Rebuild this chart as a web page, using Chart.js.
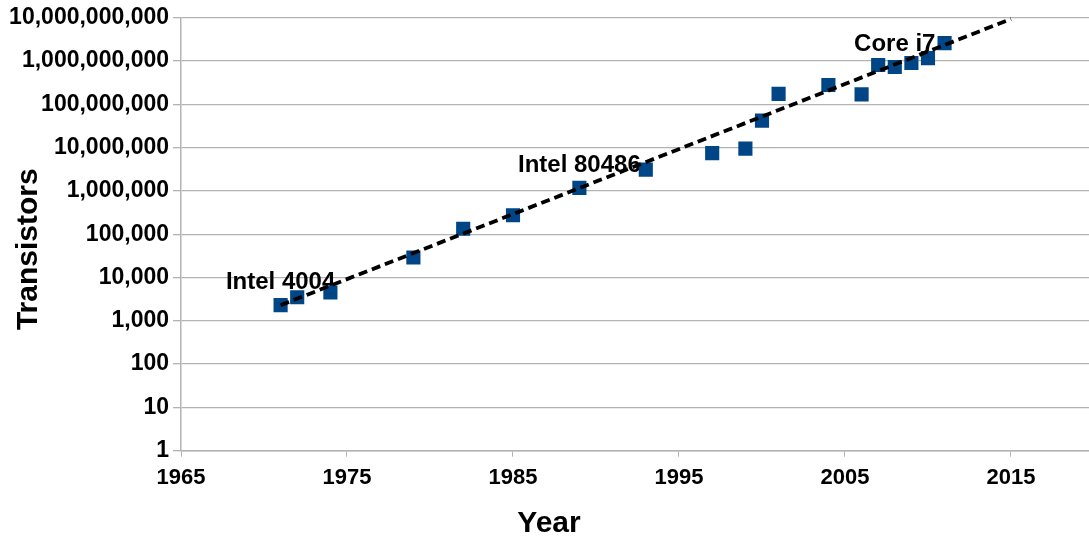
<!DOCTYPE html>
<html><head><meta charset="utf-8">
<script src="https://cdn.jsdelivr.net/npm/chart.js@4/dist/chart.umd.min.js"></script>
<style>html,body{margin:0;padding:0;background:#fff;overflow:hidden}</style>
</head><body>
<canvas id="c" width="1089" height="539"></canvas>
<script>
// ---- data ----
const years = [1971,1972,1974,1979,1982,1985,1989,1993,1997,1999,2000,2001,2004,2006,2007,2008,2009,2010,2011];
const transistors = [2300,3500,4500,29000,134000,275000,1180000,3100000,7500000,9500000,42000000,175000000,280000000,170000000,810000000,731000000,904000000,1170000000,2600000000];
const pointLabels = ['Intel 4004','','','','','','Intel 80486','','','','','','','','','Core i7','','',''];
const trendYears = [1971, 2015];
const trendValues = [2300, 9400000000];
const xTicks = [1965,1975,1985,1995,2005,2015];
const yTicks = [1,10,100,1000,10000,100000,1000000,10000000,100000000,1000000000,10000000000];
const xTitle = 'Year';
const yTitle = 'Transistors';

const FONT = '"Liberation Sans", Arial, sans-serif';
const GRID = '#b3b3b3';

const labelPlugin = {
  id: 'ptLabels',
  beforeDatasetsDraw(chart) {
    const meta = chart.getDatasetMeta(1);
    const ctx = chart.ctx;
    ctx.save();
    ctx.font = 'bold 24px ' + FONT;
    ctx.fillStyle = '#000';
    ctx.textAlign = 'center';
    ctx.textBaseline = 'alphabetic';
    meta.data.forEach((pt, i) => {
      const t = pointLabels[i];
      if (t) ctx.fillText(t, pt.x, pt.y - 16);
    });
    ctx.restore();
  }
};

const titlePlugin = {
  id: 'axisTitles',
  afterDraw(chart) {
    const ctx = chart.ctx, ca = chart.chartArea;
    ctx.save();
    ctx.fillStyle = '#000';
    ctx.textAlign = 'center';
    ctx.textBaseline = 'alphabetic';
    ctx.font = 'bold 30px ' + FONT;
    ctx.fillText(xTitle, 549, 531.5);
    ctx.font = 'bold 30px ' + FONT;
    ctx.translate(37, (ca.top + ca.bottom) / 2 + 15);
    ctx.rotate(-Math.PI / 2);
    ctx.fillText(yTitle, 0, 0);
    ctx.restore();
  }
};

new Chart(document.getElementById('c'), {
  type: 'scatter',
  data: {
    datasets: [
      {
        type: 'line',
        label: 'trend',
        data: trendYears.map((x, i) => ({x, y: trendValues[i]})),
        borderColor: '#000',
        borderWidth: 3.8,
        borderDash: [9, 5],
        pointRadius: 0,
        fill: false,
        clip: false,
        order: 0
      },
      {
        label: 'Transistors',
        data: years.map((x, i) => ({x, y: transistors[i]})),
        pointStyle: 'rect',
        pointRadius: 10,
        pointHoverRadius: 10,
        backgroundColor: '#004586',
        borderColor: '#004586',
        borderWidth: 0,
        order: 1
      }
    ]
  },
  options: {
    responsive: false,
    animation: false,
    devicePixelRatio: 1,
    layout: { autoPadding: false, padding: { top: 17, right: 0, bottom: 0, left: 0 } },
    plugins: { legend: { display: false }, tooltip: { enabled: false } },
    scales: {
      x: {
        type: 'linear',
        min: 1965,
        max: 2019.7,
        afterBuildTicks: s => { s.ticks = xTicks.map(v => ({value: v})); },
        afterFit: s => { s.height = 88.3; s.paddingRight = 0; s.paddingLeft = 0; },
        ticks: {
          callback: v => String(v),
          color: '#000',
          font: { family: FONT, size: 22, weight: 'bold' },
          padding: 8,
          maxRotation: 0,
          autoSkip: false
        },
        grid: { drawOnChartArea: false, drawTicks: true, tickLength: 6, color: GRID, lineWidth: 1 },
        border: { color: GRID, width: 1.5 }
      },
      y: {
        type: 'logarithmic',
        min: 1,
        max: 10000000000,
        afterBuildTicks: s => { s.ticks = yTicks.map(v => ({value: v})); },
        afterFit: s => { s.width = 181; },
        ticks: {
          callback: v => Number(v).toLocaleString('en-US'),
          color: '#000',
          font: { family: FONT, size: 23, weight: 'bold' },
          padding: 4,
          autoSkip: false
        },
        grid: { color: GRID, lineWidth: 1.3, tickLength: 8 },
        border: { color: GRID, width: 1.5 }
      }
    }
  },
  plugins: [labelPlugin, titlePlugin]
});
</script>
</body></html>
